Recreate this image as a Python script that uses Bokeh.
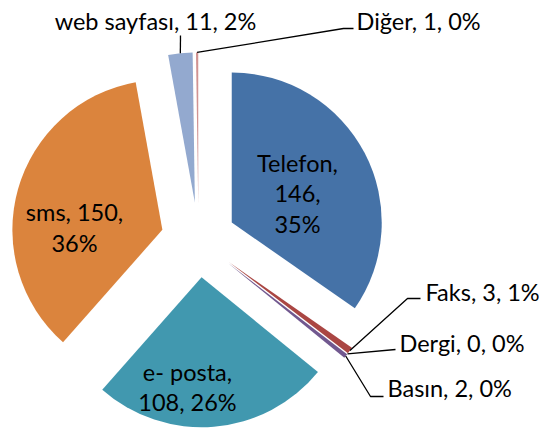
import numpy as np
from bokeh.plotting import figure
from bokeh.models import Range1d
from bokeh.embed import file_html
from bokeh.resources import INLINE
from bokeh.core.properties import value

# ---------------- data ----------------
categories = ["Telefon", "Faks", "Dergi", "Basın", "e- posta", "sms", "web sayfası", "Diğer"]
counts = [146, 3, 0, 2, 108, 150, 11, 1]
percent_labels = ["35%", "1%", "0%", "0%", "26%", "36%", "2%", "0%"]
colors = ["#4572A7", "#AA4643", "#89A54E", "#71588F", "#4198AF", "#DB843D", "#93A9CF", "#D19392"]

# ---------------- layout (page pixels, y down) ----------------
W, H = 548, 430
MARGIN = 0
CX, CY = 198.0, 239.4
RADIUS = 150.0
EXPLODE = 37.5
FONT = "Lato"
FONT_SIZE = "23.5px"
LINE_SPACING = 30.5
TEXT_DY = -10.0

# inside labels: (center x, first baseline y, line grouping of label parts)
inside_layout = {
    "Telefon": (297, 172.3, [[0], [1], [2]]),
    "sms": (74, 221.7, [[0, 1], [2]]),
    "e- posta": (187, 381.0, [[0], [1, 2]]),
}
# outside labels: (x, baseline y, align, elbow points after anchor)
outside_layout = {
    "web sayfası": (155, 30, "center", [(180, 35)]),
    "Diğer": (356, 30, "left", [(343, 28), (353, 28)]),
    "Faks": (425, 301, "left", [(407, 298), (420, 298)]),
    "Dergi": (399, 352, "left", [(395, 349)]),
    "Basın": (387, 397, "left", [(370, 396), (383, 396)]),
}


def fx(px):
    return px - MARGIN


def fy(py):
    return H + MARGIN - py


p = figure(width=W, height=H, output_backend="svg", toolbar_location=None,
           x_range=Range1d(0, W), y_range=Range1d(0, H), min_border=0,
           background_fill_color="white", border_fill_color="white")
p.axis.visible = False
p.grid.visible = False
p.outline_line_color = None

total = float(sum(counts))
cum = np.concatenate([[0.0], np.cumsum(counts)])
start_deg = 90.0 - 360.0 * cum[:-1] / total
end_deg = 90.0 - 360.0 * cum[1:] / total
mid = np.radians((start_deg + end_deg) / 2.0)

cx0, cy0 = fx(CX), fy(CY)
tip_x = cx0 + EXPLODE * np.cos(mid)
tip_y = cy0 + EXPLODE * np.sin(mid)
anchor_x = cx0 + (EXPLODE + RADIUS) * np.cos(mid)
anchor_y = cy0 + (EXPLODE + RADIUS) * np.sin(mid)

for i, c in enumerate(counts):
    if c <= 0:
        continue
    p.wedge(x=tip_x[i], y=tip_y[i], radius=RADIUS,
            start_angle=np.radians(end_deg[i]), end_angle=np.radians(start_deg[i]),
            direction="anticlock", fill_color=colors[i], line_color=None)

# leader lines
xs, ys = [], []
for i, cat in enumerate(categories):
    if cat in outside_layout:
        _, _, _, elbows = outside_layout[cat]
        xs.append([anchor_x[i]] + [fx(e[0]) for e in elbows])
        ys.append([anchor_y[i]] + [fy(e[1]) for e in elbows])
p.multi_line(xs=xs, ys=ys, line_color="black", line_width=1.3)

# labels
for i, cat in enumerate(categories):
    parts = [f"{cat},", f"{counts[i]},", percent_labels[i]]
    if cat in inside_layout:
        x, y0, groups = inside_layout[cat]
        for k, g in enumerate(groups):
            txt = " ".join(parts[j] for j in g)
            p.text(x=[fx(x)], y=[fy(y0 + k * LINE_SPACING + TEXT_DY)], text=[txt],
                   text_align="center", text_baseline="alphabetic",
                   text_font=value(FONT), text_font_size=FONT_SIZE, text_color="black")
    elif cat in outside_layout:
        x, yb, align, _ = outside_layout[cat]
        txt = " ".join(parts)
        p.text(x=[fx(x)], y=[fy(yb + TEXT_DY)], text=[txt],
               text_align=align, text_baseline="alphabetic",
               text_font=value(FONT), text_font_size=FONT_SIZE, text_color="black")

open("out.html", "w").write(file_html(p, INLINE))
